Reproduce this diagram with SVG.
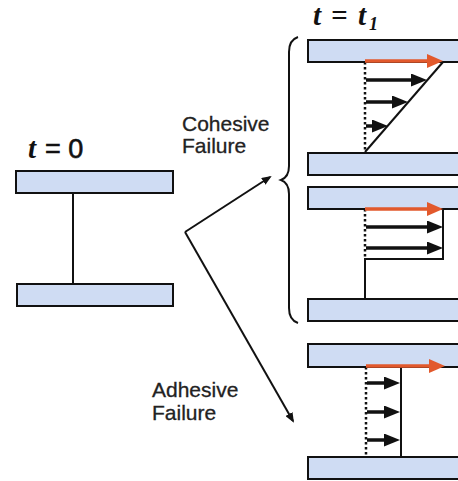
<svg xmlns="http://www.w3.org/2000/svg" width="458" height="481" viewBox="0 0 458 481">
<style>
.plate{fill:#cfdcf3;stroke:#111;stroke-width:2}
.ln{stroke:#111;stroke-width:2;fill:none}
.dot{stroke:#111;stroke-width:2.5;stroke-dasharray:2.5,2.5;fill:none}
.blk{stroke:#111;stroke-width:3.5;marker-end:url(#hb)}
.red{stroke:#e2592c;stroke-width:3.5;marker-end:url(#hr)}
.lbl{font-family:"Liberation Sans",Arial,sans-serif;font-size:21px;fill:#222;stroke:#222;stroke-width:0.3}
.tt{font-family:"Liberation Serif","Times New Roman",serif;font-size:29px;font-weight:bold;font-style:italic;fill:#111}
.sub{font-size:18px}
.eq{font-family:"Liberation Sans",Arial,sans-serif;font-size:27px;fill:#111;stroke:#111;stroke-width:0.6}
.conn{stroke:#111;stroke-width:2;fill:none;marker-end:url(#hc)}
</style>
<defs>
<marker id="hb" markerUnits="userSpaceOnUse" markerWidth="16" markerHeight="13" viewBox="0 0 16 13" refX="5" refY="6.5" orient="auto"><path d="M0,0 L16,6.5 L0,13 z" fill="#111"/></marker>
<marker id="hr" markerUnits="userSpaceOnUse" markerWidth="16" markerHeight="14" viewBox="0 0 16 14" refX="5" refY="7" orient="auto"><path d="M0,0 L16,7 L0,14 z" fill="#e2592c"/></marker>
<marker id="hc" markerUnits="userSpaceOnUse" markerWidth="10" markerHeight="8" viewBox="0 0 10 8" refX="8" refY="4" orient="auto"><path d="M0,0 L10,4 L0,8 z" fill="#111"/></marker>
</defs>
<rect width="458" height="481" fill="#fff"/>

<g id="t0-label"><text class="tt" x="28" y="158">t</text><text class="eq" x="45" y="158">= 0</text></g>
<g id="t1-label"><text class="tt" x="313" y="25">t</text><text class="tt" x="331" y="25">=</text><text class="tt" x="358" y="25">t</text><text class="tt sub" x="369" y="30">1</text></g>

<g id="initial">
<rect class="plate" x="16" y="171" width="157" height="22"/>
<rect class="plate" x="17" y="284" width="156" height="22"/>
<line class="ln" x1="73" y1="193" x2="73" y2="284"/>
</g>

<g id="brace"><path class="ln" d="M298,37 Q289,40 289,52 L289,166 Q289,177 281,180 Q289,183 289,194 L289,308 Q289,320 298,323"/></g>

<g id="cohesive-label"><text class="lbl" x="182" y="131">Cohesive</text><text class="lbl" x="182" y="153">Failure</text></g>
<g id="adhesive-label"><text class="lbl" x="152" y="397">Adhesive</text><text class="lbl" x="152" y="420">Failure</text></g>

<g id="cohesive-1">
<rect class="plate" x="308" y="40" width="160" height="22"/>
<rect class="plate" x="308" y="153" width="160" height="22"/>
<line class="dot" x1="365" y1="62" x2="365" y2="152"/>
<line class="ln" x1="365" y1="152" x2="443" y2="62"/>
<line class="blk" x1="366" y1="80" x2="416" y2="80"/>
<line class="blk" x1="366" y1="102" x2="397" y2="102"/>
<line class="blk" x1="366" y1="126" x2="377" y2="126"/>
<line class="red" x1="365" y1="61" x2="432" y2="61"/>
</g>

<g id="cohesive-2">
<rect class="plate" x="308" y="187" width="160" height="22"/>
<rect class="plate" x="308" y="299" width="160" height="22"/>
<line class="dot" x1="365" y1="209" x2="365" y2="258"/>
<path class="ln" d="M443,209 L443,259 L365,259 L365,299"/>
<line class="blk" x1="366" y1="227" x2="432" y2="227"/>
<line class="blk" x1="366" y1="248" x2="432" y2="248"/>
<line class="red" x1="365" y1="209" x2="432" y2="209"/>
</g>

<g id="adhesive">
<rect class="plate" x="308" y="344" width="160" height="23"/>
<rect class="plate" x="308" y="457" width="160" height="22"/>
<line class="dot" x1="366" y1="367" x2="366" y2="456"/>
<line class="ln" x1="401" y1="367" x2="401" y2="457"/>
<line class="blk" x1="367" y1="383" x2="389" y2="383"/>
<line class="blk" x1="367" y1="412" x2="389" y2="412"/>
<line class="blk" x1="367" y1="440" x2="389" y2="440"/>
<line class="red" x1="366" y1="366" x2="434" y2="366"/>
</g>

<g id="connectors">
<line class="conn" x1="185" y1="232" x2="270" y2="177"/>
<line class="conn" x1="185" y1="232" x2="293" y2="421"/>
</g>
</svg>
